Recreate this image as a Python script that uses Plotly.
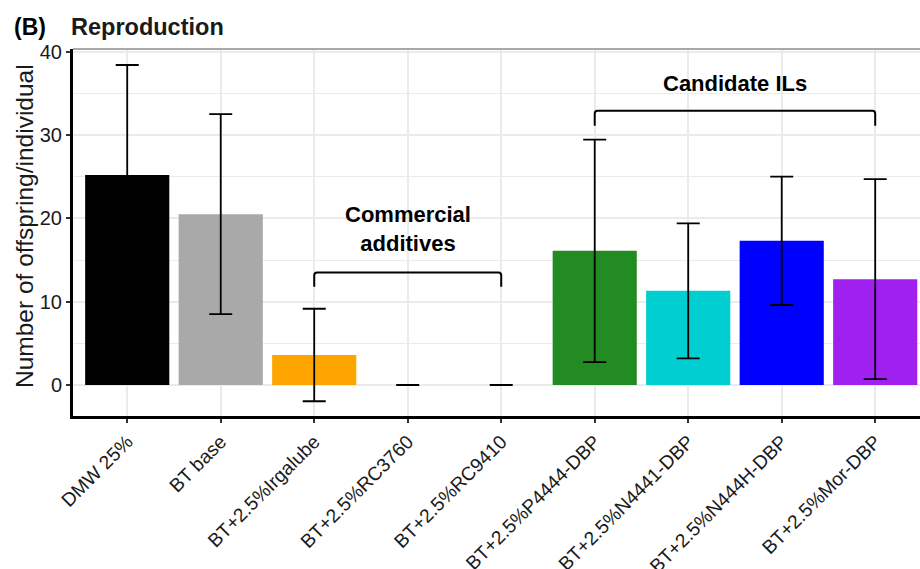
import plotly.graph_objects as go

# ---- data -------------------------------------------------------------
treatments = [
    "DMW 25%", "BT base", "BT+2.5%Irgalube", "BT+2.5%RC3760", "BT+2.5%RC9410",
    "BT+2.5%P4444-DBP", "BT+2.5%N4441-DBP", "BT+2.5%N444H-DBP", "BT+2.5%Mor-DBP",
]
mean_offspring = [25.2, 20.5, 3.6, 0.0, 0.0, 16.1, 11.3, 17.3, 12.7]
sd_offspring = [13.2, 12.0, 5.55, 0.0, 0.0, 13.35, 8.1, 7.7, 12.0]
bar_colors = ["#000000", "#A9A9A9", "#FFA500", "#FFA500", "#FFA500",
              "#228B22", "#00CED1", "#0000FF", "#A020F0"]

y_ticks = [0, 10, 20, 30, 40]

# bracket groups: label, first/last category, bar level, foot level, label level
group_labels = ["Commercial<br>additives", "Candidate ILs"]
group_start = [2, 5]
group_end = [4, 8]
group_bar_y = [13.5, 32.9]
group_foot_y = [11.8, 31.1]
group_label_y = [18.7, 36.2]

# ---- layout geometry --------------------------------------------------
W, H = 920, 569
M_L, M_R, M_T, M_B = 73, 0, 49, 153
FONT = "Liberation Sans, Arial, sans-serif"
GRID = "#EBEBEB"

plot_w = W - M_L - M_R
plot_h = H - M_T - M_B


def px_to_paper_x(px):
    return (px - M_L) / plot_w


def px_to_paper_y(py):
    return 1 - (py - M_T) / plot_h


fig = go.Figure()

fig.add_trace(go.Bar(
    x=list(range(len(treatments))),
    y=mean_offspring,
    width=0.9,
    marker=dict(color=bar_colors, line=dict(width=0)),
    error_y=dict(type="data", array=sd_offspring, visible=True,
                 color="#000000", thickness=1.8, width=11.5),
    showlegend=False,
    hoverinfo="x+y",
))

shapes = []
annotations = []

# group brackets with their labels
for lab, x0, x1, yb, yf, yl in zip(group_labels, group_start, group_end,
                                  group_bar_y, group_foot_y, group_label_y):
    r = 0.03
    shapes.append(dict(
        type="path", xref="x", yref="y",
        path=(f"M {x0},{yf} L {x0},{yb - 0.35} Q {x0},{yb} {x0 + r},{yb} "
              f"L {x1 - r},{yb} Q {x1},{yb} {x1},{yb - 0.35} L {x1},{yf}"),
        line=dict(color="#000000", width=2),
    ))
    annotations.append(dict(
        x=(x0 + x1) / 2, y=yl, xref="x", yref="y", text=f"<b>{lab}</b>",
        showarrow=False, font=dict(family=FONT, size=22, color="#000000"),
        xanchor="center", yanchor="middle", align="center",
    ))

# panel border along the top
shapes.append(dict(type="line", xref="paper", yref="paper",
                   x0=0, x1=1, y0=1, y1=1,
                   line=dict(color="#8C8C8C", width=1.5), layer="above"))

# panel tag and title
annotations.append(dict(
    x=px_to_paper_x(12), y=px_to_paper_y(27), xref="paper", yref="paper",
    text="<b>(B)</b>", showarrow=False, xanchor="left", yanchor="middle",
    font=dict(family=FONT, size=23, color="#000000"),
))
annotations.append(dict(
    x=px_to_paper_x(69), y=px_to_paper_y(27), xref="paper", yref="paper",
    text="<b>Reproduction</b>", showarrow=False, xanchor="left", yanchor="middle",
    font=dict(family=FONT, size=23.5, color="#1a1a1a"),
))

# y axis title
annotations.append(dict(
    x=px_to_paper_x(24), y=px_to_paper_y(226), xref="paper", yref="paper",
    text="Number of offspring/individual", textangle=-90, showarrow=False,
    xanchor="center", yanchor="middle",
    font=dict(family=FONT, size=24.5, color="#1a1a1a"),
))

fig.update_layout(
    width=W, height=H,
    margin=dict(l=M_L, r=M_R, t=M_T, b=M_B, pad=0, autoexpand=False),
    paper_bgcolor="#FFFFFF", plot_bgcolor="#FFFFFF",
    font=dict(family=FONT, color="#1a1a1a"),
    shapes=shapes, annotations=annotations,
    bargap=0.1,
)

fig.update_xaxes(
    range=[-0.58, 8.479], automargin=False,
    tickmode="array", tickvals=list(range(len(treatments))), ticktext=treatments,
    tickangle=-45, tickfont=dict(family=FONT, size=19.2, color="#1a1a1a"),
    showgrid=True, gridcolor=GRID, gridwidth=1.5,
    showline=True, linecolor="#000000", linewidth=3,
    ticks="outside", ticklen=4, tickwidth=1.5, tickcolor="#333333",
    zeroline=False, fixedrange=True,
)

fig.update_yaxes(
    range=[-3.72, 40.32], automargin=False,
    tickmode="array", tickvals=y_ticks,
    tickfont=dict(family=FONT, size=20, color="#1a1a1a"),
    showgrid=True, gridcolor=GRID, gridwidth=1.5,
    minor=dict(dtick=5, tick0=0, showgrid=True, gridcolor=GRID, gridwidth=1.2, ticks=""),
    showline=True, linecolor="#000000", linewidth=3,
    ticks="outside", ticklen=4, tickwidth=1.5, tickcolor="#333333",
    zeroline=False, fixedrange=True,
)

fig.write_html("out.html")
